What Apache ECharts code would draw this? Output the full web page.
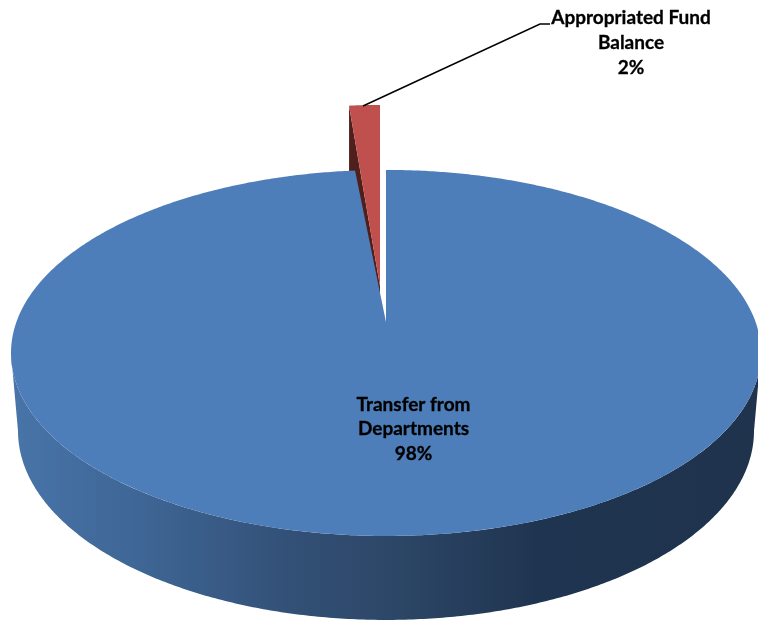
<!DOCTYPE html>
<html>
<head>
<meta charset="utf-8">
<style>html,body{margin:0;padding:0;background:#fff}#c{width:758px;height:622px}</style>
<script src="https://cdn.jsdelivr.net/npm/echarts@6/dist/echarts.min.js"></script>
</head>
<body>
<div id="c"></div>
<script>
// Data
const names = ['Transfer from\nDepartments', 'Appropriated Fund\nBalance'];
const values = [98.44, 1.56];

// Pie geometry (layout, not data)
const PERSPECTIVE = 0.169;
const CX = 386;
const topFace = { a: 369.6, b: 177.8, y0: 322 };
const bottomFace = { a: 362.7, b: 183.6, y0: 399 };
const redOffset = { dx: -6, dy: -36, back: 29 };
const WALL = 70;
const colors = ['#4e7eb9', '#c0504d'];
const sliceWall = '#4f1f1c';
const wallStops = [
  [14, '#4874a8'], [130, '#3f6797'], [300, '#324f75'], [400, '#2c4666'], [540, '#1f3450'], [758, '#1f334d']
];
const FONT = 'bold 19px Lato';

function rim(face, deg, off) {
  const t = deg * Math.PI / 180, u = Math.sin(t), v = Math.cos(t);
  const d = 1 + PERSPECTIVE * v;
  const o = off || { dx: 0, dy: 0, back: 0 };
  return [CX + o.dx + face.a * u / d, face.y0 + o.dy - (face.b / d + o.back * (v > 0 ? 1 : 0)) * v];
}
function arc(face, from, to, off) {
  const pts = [], n = Math.max(2, Math.ceil(Math.abs(to - from) * 2));
  for (let i = 0; i <= n; i++) pts.push(rim(face, from + (to - from) * i / n, off));
  return pts;
}
const total = values.reduce((a, b) => a + b, 0);
const blueEnd = 360 * values[0] / total;
const SIDE = Math.acos(-PERSPECTIVE) * 180 / Math.PI; // where each face is widest

function pct(v) { return Math.round(v / total * 100) + '%'; }

function label(text, x, y, lineHeight) {
  return { type: 'text', x, y, style: {
    text, x: 0, y: 0, align: 'center', verticalAlign: 'middle',
    font: FONT, lineHeight, fill: '#000', stroke: '#000', lineWidth: 0.3 } };
}
function mainSlice(value) {
  const front = arc(topFace, SIDE, 360 - SIDE);
  const lower = arc(bottomFace, 360 - SIDE, SIDE);
  const x0 = 0, x1 = 758;
  return {
    type: 'group',
    children: [
      { type: 'polygon', shape: { points: front.concat(lower) },
        style: { fill: new echarts.graphic.LinearGradient(x0, 0, x1, 0,
          wallStops.map(s => ({ offset: (s[0] - x0) / (x1 - x0), color: s[1] })), true) } },
      { type: 'polygon', shape: { points: [[CX, topFace.y0]].concat(arc(topFace, 0, blueEnd)) },
        style: { fill: colors[0] } },
      label(names[0] + '\n' + pct(value), 413.5, 429, 24.5)
    ]
  };
}
function smallSlice(value) {
  const apex = [CX + redOffset.dx, topFace.y0 + redOffset.dy];
  const r = arc(topFace, blueEnd, 360, redOffset);
  const a = r[0];
  const apexLow = [apex[0], apex[1] + WALL];
  return {
    type: 'group',
    children: [
      { type: 'polygon', shape: { points: [a, apex, apexLow, [a[0], a[1] + WALL]] }, style: { fill: sliceWall } },
      { type: 'polygon', shape: { points: [apex].concat(r) }, style: { fill: colors[1] } },
      { type: 'polyline', shape: { points: [[363, 106], [540, 24], [550, 24]] },
        style: { stroke: '#000', lineWidth: 1.5, fill: null } },
      label(names[1] + '\n' + pct(value), 631, 43, 25)
    ]
  };
}
// small slice is painted first so the main slice sits over its hidden part
const paintOrder = [1, 0];

function renderItem(params, api) {
  const source = paintOrder[params.dataIndex];
  return source === 0 ? mainSlice(api.value(0)) : smallSlice(api.value(0));
}

const chart = echarts.init(document.getElementById('c'), null, { renderer: 'canvas' });
chart.setOption({
  backgroundColor: '#fff',
  animation: false,
  series: [{
    type: 'custom',
    coordinateSystem: 'none',
    renderItem,
    encode: { value: 0 },
    data: paintOrder.map(i => [values[i]]),
    clip: false
  }]
});
</script>
</body>
</html>
